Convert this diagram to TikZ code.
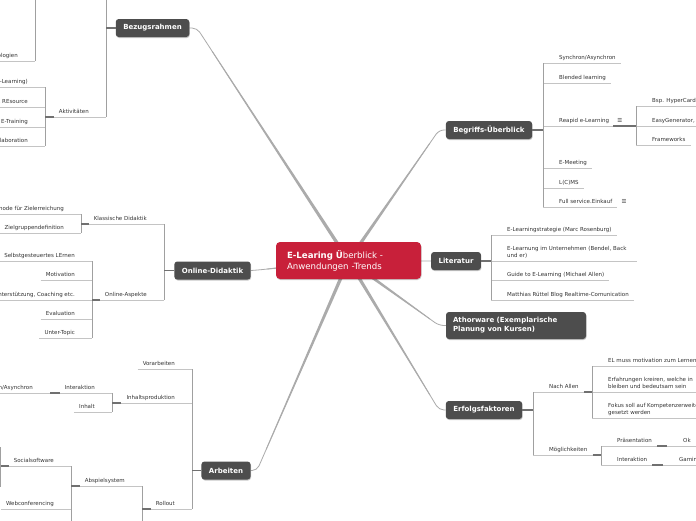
\documentclass[tikz,border=0pt]{standalone}
\usepackage{fontspec}
\setmainfont{DejaVu Sans}
\usetikzlibrary{calc,shadows}
\definecolor{topicc}{HTML}{4D4D4D}
\definecolor{centc}{HTML}{C8203A}
\definecolor{labc}{HTML}{333333}
\definecolor{ulc}{HTML}{C4C4C4}
\definecolor{brc}{HTML}{A0A0A0}
\definecolor{stc}{HTML}{707070}
\definecolor{spc}{HTML}{ABABAB}
\newcommand\subf{\fontsize{5.5}{7}\selectfont}
\newcommand\topf{\fontsize{7}{9}\selectfont\bfseries}
\newcommand\cenf{\fontsize{8.6}{11}\selectfont}
\newcommand\twol[2]{\begin{tabular}[b]{@{}l@{}}#1\\#2\end{tabular}}
\pgfdeclarelayer{bg}
\pgfsetlayers{bg,main}
\newcommand\spoke[3]{%
  \path ($(#1)!0.9!(#2)$) coordinate (tmpk);
  \fill[spc] ($(#1)!1.8pt!90:(tmpk)$) -- ($(tmpk)!0.4pt!-90:(#1)$) -- ($(tmpk)!0.4pt!90:(#1)$) -- ($(#1)!1.8pt!-90:(tmpk)$) -- cycle;
  \draw[spoke] (#1) -- (#2) -- (#3);}
\tikzset{
  softshadow/.style={drop shadow={shadow xshift=0.5pt, shadow yshift=-1pt, opacity=0.22, fill=black}},
  topic/.style={fill=topicc, text=white, font=\topf, rounded corners=3pt, inner xsep=7.5pt, inner ysep=0pt, minimum height=18pt, softshadow},
  lab/.style={inner xsep=0pt, inner ysep=0pt, text height=4.2pt, text depth=3.5pt, font=\subf, text=labc},
  rl/.style={lab, anchor=south west},
  ll/.style={lab, anchor=south east},
  icon/.style={font=\subf, text=labc, inner sep=0pt, anchor=base west},
  uline/.style={draw=ulc, line width=0.8pt},
  brk/.style={draw=brc, line width=0.7pt},
  stub/.style={draw=stc, line width=1.4pt},
  spoke/.style={draw=spc, line width=0.8pt, rounded corners=5pt}
}
\begin{document}
\begin{tikzpicture}[x=1pt,y=-1pt]
\useasboundingbox (0,0) rectangle (696,520);
\clip (0,0) rectangle (696,520);

% ---------- main topics ----------
\node[fill=centc, text=white, rounded corners=4pt, font=\cenf, text width=123pt, align=left, inner xsep=11pt, inner ysep=0pt, minimum height=37pt, softshadow] (cen) at (348.5,260.5) {\textbf{E-Learing Ü}berblick -\\Anwendungen -Trends};
\node[topic] (bez) at (152.5,28) {Bezugsrahmen};
\node[topic] (od) at (212.5,270.5) {Online-Didaktik};
\node[topic] (arb) at (226,470.5) {Arbeiten};
\node[topic] (beg) at (489,130) {Begriffs-Überblick};
\node[topic] (lit) at (456,261) {Literatur};
\node[topic, minimum height=27pt, text width=126pt, align=left, inner xsep=7pt] (ath) at (516,325.5) {Athorware (Exemplarische\\Planung von Kursen)};
\node[topic] (erf) at (484,410) {Erfolgsfaktoren};

\begin{pgfonlayer}{bg}
\fill[white] (0,0) rectangle (696,520);
\spoke{cen.center}{197,28}{bez.east}
\spoke{cen.center}{439,130}{beg.west}
\spoke{cen.center}{425,261}{lit.west}
\spoke{cen.center}{439,325.5}{ath.west}
\spoke{cen.center}{439,410}{erf.west}
\spoke{cen.center}{257,470.5}{arb.east}
\spoke{cen.center}{258,270}{od.east}
\end{pgfonlayer}

% ---------- Begriffs-Ueberblick ----------
\node[rl] (b1) at (559,63) {Synchron/Asynchron};
\node[rl] (b2) at (559,83) {Blended learning};
\node[rl] (b3) at (559,126) {Reapid e-Learning};
\node[rl] (b4) at (559,168) {E-Meeting};
\node[rl] (b5) at (559,188) {L(C)MS};
\node[rl] (b6) at (559,207) {Full service.Einkauf};
\node[icon] (i1) at ([xshift=8pt]b3.base east) {☰};
\node[icon] (i2) at ([xshift=9pt]b6.base east) {☰};
\node[rl] (r1) at (652,106) {Bsp. HyperCard};
\node[rl] (r2) at (652,126) {EasyGenerator,};
\node[rl] (r3) at (652,145) {Frameworks};
\foreach \n in {b1,b2,b3,b4,b5,b6,r1,r2,r3}
  \draw[uline] ([xshift=-16pt]\n.south west) -- ([xshift=5pt]\n.south east);
\draw[brk] ([xshift=-16pt]b1.south west) -- ([xshift=-16pt]b6.south west);
\draw[brk] ([xshift=-16pt]r1.south west) -- ([xshift=-16pt]r3.south west);
\draw[stub] (beg.east) -- ([xshift=-16pt]b3.south west |- beg.east);
\draw[stub] ([xshift=4pt]b3.south east) -- ([xshift=-16pt]r2.south west);

% ---------- Literatur ----------
\node[rl] (l1) at (507,235) {E-Learningstrategie (Marc Rosenburg)};
\node[rl] (l2) at (507,261) {\twol{E-Learnung im Unternehmen (Bendel, Back}{und er)}};
\node[rl] (l3) at (507,280) {Guide to E-Learning (Michael Allen)};
\node[rl] (l4) at (507,300) {Matthias Rüttel Blog Realtime-Comunication};
\foreach \n in {l1,l3,l4}
  \draw[uline] ([xshift=-16pt]\n.south west) -- ([xshift=5pt]\n.south east);
\draw[uline] ([xshift=-16pt]l2.south west) -- ([xshift=10pt]l2.south east);
\draw[brk] ([xshift=-16pt]l1.south west) -- ([xshift=-16pt]l4.south west);
\draw[stub] (lit.east) -- ([xshift=-16pt]l2.south west);

% ---------- Erfolgsfaktoren ----------
\node[rl] (e1) at (549,392) {Nach Allen};
\node[rl] (e2) at (549,455) {Möglichkeiten};
\node[rl] (n1) at (608,366) {EL muss motivation zum Lernen};
\node[rl] (n2) at (608,392) {\twol{Erfahrungen kreiren, welche in}{bleiben und bedeutsam sein}};
\node[rl] (n3) at (608,418) {\twol{Fokus soll auf Kompetenzerweiterung}{gesetzt werden}};
\node[rl] (m1) at (617,446) {Präsentation};
\node[rl] (m2) at (617,465) {Interaktion};
\node[rl] (o1) at (683,446) {Ok};
\node[rl] (o2) at (679,465) {Gaming};
\foreach \n in {e1,e2,n1,n2,n3,m1,m2,o1,o2}
  \draw[uline] ([xshift=-16pt]\n.south west) -- ([xshift=5pt]\n.south east);
\draw[brk] ([xshift=-16pt]e1.south west) -- ([xshift=-16pt]e2.south west);
\draw[brk] ([xshift=-16pt]n1.south west) -- ([xshift=-16pt]n3.south west);
\draw[brk] ([xshift=-16pt]m1.south west) -- ([xshift=-16pt]m2.south west);
\draw[stub] (erf.east) -- ([xshift=-16pt]e1.south west |- erf.east);
\draw[stub] ([xshift=5pt]e1.south east) -- ([xshift=-16pt]n2.south west);
\draw[stub] ([xshift=5pt]e2.south east) -- ([xshift=-16pt]m1.south west |- e2.south);
\draw[stub] ([xshift=5pt]m1.south east) -- ([xshift=-16pt]o1.south west);
\draw[stub] ([xshift=5pt]m2.south east) -- ([xshift=-16pt]o2.south west);

% ---------- Bezugsrahmen ----------
\node[ll] (t1) at (18,61) {Technologien};
\node[ll] (a0) at (89,117) {Aktivitäten};
\node[ll] (k1) at (28,87) {(E-Learning)};
\node[ll] (k2) at (28,107) {Lernen als REsource};
\node[ll] (k3) at (28,127) {E-Training};
\node[ll] (k4) at (28,146) {Kollaboration};
\coordinate (btop) at (106,-5);
\coordinate (ttop) at (35,-5);
\foreach \n in {t1,a0,k1,k2,k3,k4}
  \draw[uline] ([xshift=-5pt]\n.south west) -- ([xshift=17pt]\n.south east);
\draw[brk] (btop) -- ([xshift=17pt]a0.south east);
\draw[brk] (ttop) -- ([xshift=17pt]t1.south east);
\draw[brk] ([xshift=17pt]k1.south east) -- ([xshift=17pt]k4.south east);
\draw[stub] (bez.west) -- (btop |- bez.west);
\draw[stub] ([xshift=-5pt]a0.south west) -- ([xshift=17pt]k1.south east |- a0.south);

% ---------- Online-Didaktik ----------
\node[ll] (d1) at (147,224) {Klassische Didaktik};
\node[ll] (d2) at (147,300) {Online-Aspekte};
\node[ll] (p1) at (64,214) {Methode für Zielerreichung};
\node[ll] (p2) at (64,233) {Zielgruppendefinition};
\node[ll] (q1) at (75,261) {Selbstgesteuertes LErnen};
\node[ll] (q2) at (75,280) {Motivation};
\node[ll] (q3) at (75,300) {Unterstützung, Coaching etc.};
\node[ll] (q4) at (75,319) {Evaluation};
\node[ll] (q5) at (75,338) {Unter-Topic};
\foreach \n in {d1,d2,p1,p2,q1,q2,q3,q4,q5}
  \draw[uline] ([xshift=-5pt]\n.south west) -- ([xshift=17pt]\n.south east);
\draw[brk] ([xshift=17pt]d1.south east) -- ([xshift=17pt]d2.south east);
\draw[brk] ([xshift=17pt]p1.south east) -- ([xshift=17pt]p2.south east);
\draw[brk] ([xshift=17pt]q1.south east) -- ([xshift=17pt]q5.south east);
\draw[stub] (od.west) -- ([xshift=17pt]d1.south east |- od.west);
\draw[stub] ([xshift=-5pt]d1.south west) -- ([xshift=17pt]p1.south east |- d1.south);
\draw[stub] ([xshift=-5pt]d2.south west) -- ([xshift=17pt]q3.south east);

% ---------- Arbeiten ----------
\node[ll] (w1) at (175,369) {Vorarbeiten};
\node[ll] (w2) at (175,403) {Inhaltsproduktion};
\node[ll] (w3) at (175,509) {Rollout};
\node[ll] (x1) at (95,393) {Interaktion};
\node[ll] (x2) at (95,412) {Inhalt};
\node[ll] (y1) at (33,393) {Synchron/Asynchron};
\node[ll] (z1) at (125,486) {Abspielsystem};
\node[ll] (u1) at (54,466) {Socialsoftware};
\node[ll] (u2) at (54,509) {Webconferencing};
\coordinate (sbt) at (0.6,447);
\coordinate (sbb) at (0.6,487);
\foreach \n in {w1,w2,w3,x1,x2,y1,z1,u1,u2}
  \draw[uline] ([xshift=-5pt]\n.south west) -- ([xshift=17pt]\n.south east);
\draw[brk] ([xshift=17pt]w1.south east) -- ([xshift=17pt]w3.south east);
\draw[brk] ([xshift=17pt]x1.south east) -- ([xshift=17pt]x2.south east);
\draw[brk] ([xshift=17pt]z1.south east) -- ++(0,40);
\draw[brk] ([xshift=17pt]u1.south east) -- ++(0,60);
\draw[brk] (sbt) -- (sbb);
\draw[stub] (arb.west) -- ([xshift=17pt]w1.south east |- arb.west);
\draw[stub] ([xshift=-5pt]w2.south west) -- ([xshift=17pt]x1.south east |- w2.south);
\draw[stub] ([xshift=-5pt]x1.south west) -- ([xshift=17pt]y1.south east);
\draw[stub] ([xshift=-5pt]w3.south west) -- ([xshift=17pt]z1.south east |- w3.south);
\draw[stub] ([xshift=-5pt]z1.south west) -- ([xshift=17pt]u1.south east |- z1.south);
\draw[stub] ([xshift=-5pt]u1.south west) -- (sbt |- u1.south);
\end{tikzpicture}
\end{document}
